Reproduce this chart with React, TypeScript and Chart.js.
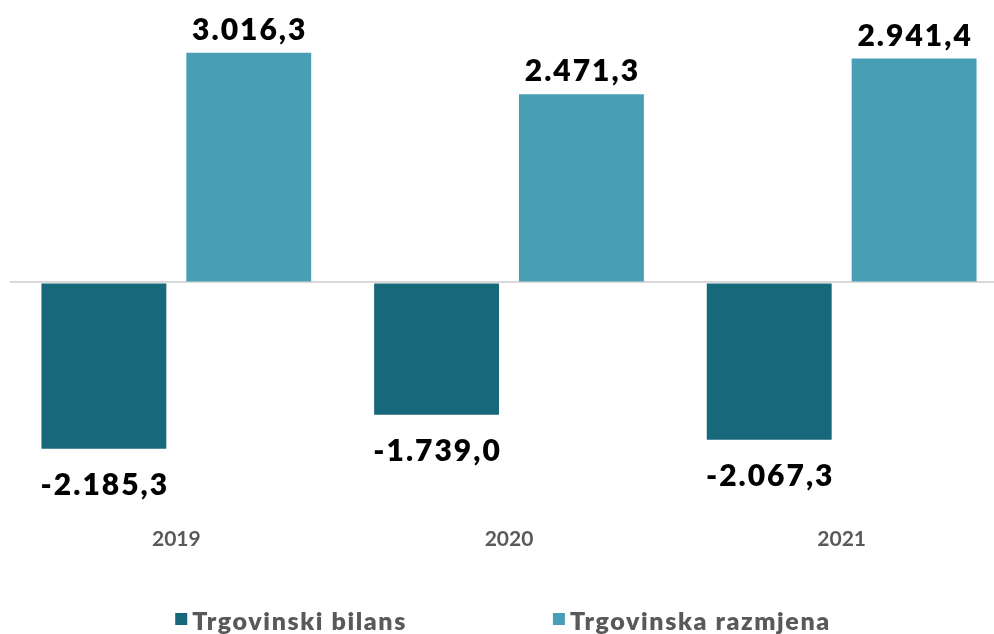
import React, { useEffect, useRef } from "react";
import { Chart, registerables } from "chart.js";

Chart.register(...registerables);

const categories = ["2019", "2020", "2021"];
const trgovinskiBilans = [-2185.3, -1739.0, -2067.3];
const trgovinskaRazmjena = [3016.3, 2471.3, 2941.4];
const seriesLabels = ["Trgovinski bilans", "Trgovinska razmjena"];
const seriesColors = ["#17687A", "#489FB5"];

const FONT = "Lato, 'DejaVu Sans', sans-serif";

function formatValue(v: number): string {
  const neg = v < 0;
  const [i, d] = Math.abs(v).toFixed(1).split(".");
  const ii = i.replace(/\B(?=(\d{3})+(?!\d))/g, ".");
  return (neg ? "-" : "") + ii + "," + d;
}

const dataLabelPlugin = {
  id: "dataLabels",
  afterDatasetsDraw(chart: any) {
    const ctx = chart.ctx;
    ctx.save();
    ctx.font = `800 30px ${FONT}`;
    ctx.fillStyle = "#000000";
    ctx.textAlign = "center";
    ctx.textBaseline = "alphabetic";
    (ctx as any).letterSpacing = "2px";
    chart.data.datasets.forEach((ds: any, di: number) => {
      const meta = chart.getDatasetMeta(di);
      meta.data.forEach((el: any, idx: number) => {
        const v = ds.data[idx];
        const text = formatValue(v);
        const y = v >= 0 ? el.y - 13 : el.y + 46;
        ctx.fillText(text, el.x + 1, y);
      });
    });
    ctx.restore();
  },
};

const legendPlugin = {
  id: "customLegend",
  afterDraw(chart: any, _args: any, opts: any) {
    const ctx = chart.ctx;
    ctx.save();
    ctx.font = `800 25px ${FONT}`;
    (ctx as any).letterSpacing = "1.6px";
    ctx.textBaseline = "alphabetic";
    ctx.textAlign = "left";
    const box = 12;
    const boxGap = 5;
    const items = chart.data.datasets.map((ds: any) => {
      const w = ctx.measureText(ds.label).width;
      return { label: ds.label, color: ds.backgroundColor, w: box + boxGap + w };
    });
    const total = items.reduce((s: number, it: any) => s + it.w, 0) + opts.gap * (items.length - 1);
    let x = opts.centerX - total / 2;
    items.forEach((it: any) => {
      ctx.fillStyle = it.color;
      ctx.fillRect(x, opts.baseline - 17, box, box);
      ctx.fillStyle = "#595959";
      ctx.fillText(it.label, x + box + boxGap, opts.baseline);
      x += it.w + opts.gap;
    });
    ctx.restore();
  },
};

export default function App() {
  const ref = useRef<HTMLCanvasElement | null>(null);

  useEffect(() => {
    if (!ref.current) return;
    const chart = new Chart(ref.current, {
      type: "bar",
      data: {
        labels: categories,
        datasets: [
          {
            label: seriesLabels[0],
            data: trgovinskiBilans,
            backgroundColor: seriesColors[0],
            borderWidth: 0,
            categoryPercentage: 0.871,
            barPercentage: 0.862,
          },
          {
            label: seriesLabels[1],
            data: trgovinskaRazmjena,
            backgroundColor: seriesColors[1],
            borderWidth: 0,
            categoryPercentage: 0.871,
            barPercentage: 0.862,
          },
        ],
      },
      options: {
        responsive: false,
        animation: false,
        layout: { padding: { left: 10, right: 10, top: 16, bottom: 66 } },
        plugins: {
          legend: { display: false },
          tooltip: { enabled: false },
          customLegend: { centerX: 503, gap: 146, baseline: 630 },
        } as any,
        scales: {
          x: {
            grid: { display: false, drawTicks: false },
            border: { display: false },
            ticks: {
              color: "#595959",
              font: { family: FONT, size: 21, weight: "bold" },
              padding: 16,
            },
          },
          y: {
            min: -3000,
            max: 3500,
            border: { display: false },
            grid: {
              drawTicks: false,
              color: (c: any) => (c.tick && c.tick.value === 0 ? "#D9D9D9" : "rgba(0,0,0,0)"),
              lineWidth: 2,
            },
            ticks: { display: false, stepSize: 500 },
          },
        },
      },
      plugins: [dataLabelPlugin, legendPlugin],
    });
    return () => chart.destroy();
  }, []);

  return (
    <div
      style={{
        position: "fixed",
        left: 0,
        top: 0,
        width: 994,
        height: 634,
        overflow: "hidden",
        background: "#ffffff",
      }}
    >
      <canvas ref={ref} width={1018} height={634} style={{ display: "block" }} />
    </div>
  );
}
